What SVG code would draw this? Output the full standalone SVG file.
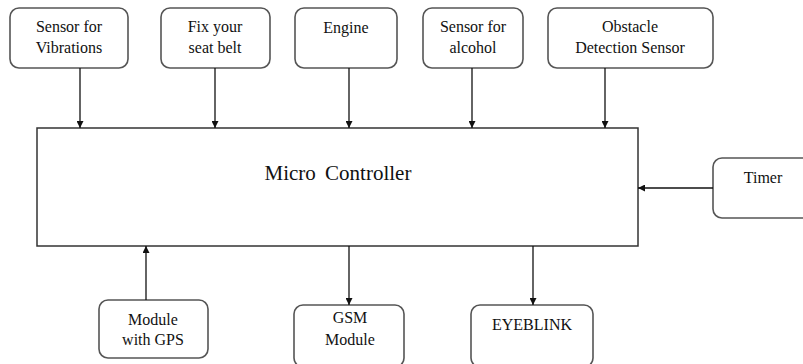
<svg xmlns="http://www.w3.org/2000/svg" width="803" height="364" viewBox="0 0 803 364">
<style>
.box{fill:#fff;stroke:#555;stroke-width:1.6}
.main{fill:#fff;stroke:#333;stroke-width:1.5}
.t{font-size:16px;fill:#111;text-anchor:middle}
.big{font-size:21px;fill:#111;text-anchor:middle;word-spacing:4px}
.c{stroke:#111;stroke-width:1.3;fill:none;marker-end:url(#ah)}
</style>
<defs>
<marker id="ah" viewBox="0 0 10 10" refX="10" refY="5" markerWidth="7" markerHeight="7" markerUnits="userSpaceOnUse" orient="auto">
<path d="M0,0 L10,5 L0,10 z" fill="#111"/>
</marker>
</defs>
<rect width="803" height="364" fill="#fff"/>
<g font-family="'Liberation Serif', 'DejaVu Serif', serif">
<g id="micro-controller">
<rect class="main" x="37" y="128" width="601" height="118"/>
<text class="big" x="338" y="180">Micro Controller</text>
</g>
<g id="sensor-vibrations">
<rect class="box" x="10" y="8" width="118" height="60" rx="9"/>
<text class="t" x="69" y="32">Sensor for</text>
<text class="t" x="69" y="53">Vibrations</text>
</g>
<g id="seat-belt">
<rect class="box" x="161" y="8" width="109" height="60" rx="9"/>
<text class="t" x="215" y="32">Fix your</text>
<text class="t" x="215" y="53">seat belt</text>
</g>
<g id="engine">
<rect class="box" x="295" y="8" width="102" height="60" rx="9"/>
<text class="t" x="346" y="33">Engine</text>
</g>
<g id="sensor-alcohol">
<rect class="box" x="423" y="8" width="100" height="60" rx="9"/>
<text class="t" x="473" y="32">Sensor for</text>
<text class="t" x="473" y="53">alcohol</text>
</g>
<g id="obstacle-sensor">
<rect class="box" x="548" y="8" width="165" height="60" rx="9"/>
<text class="t" x="630" y="32">Obstacle</text>
<text class="t" x="630" y="53">Detection Sensor</text>
</g>
<g id="timer">
<rect class="box" x="713" y="158" width="100" height="60" rx="9"/>
<text class="t" x="763" y="183">Timer</text>
</g>
<g id="gps-module">
<rect class="box" x="99" y="300" width="109" height="58" rx="9"/>
<text class="t" x="153" y="325">Module</text>
<text class="t" x="153" y="345">with GPS</text>
</g>
<g id="gsm-module">
<rect class="box" x="294" y="305" width="110" height="62" rx="9"/>
<text class="t" x="350" y="323">GSM</text>
<text class="t" x="350" y="345">Module</text>
</g>
<g id="eyeblink">
<rect class="box" x="471" y="305" width="122" height="62" rx="9"/>
<text class="t" x="532" y="330">EYEBLINK</text>
</g>
</g>
<g id="connectors">
<line class="c" x1="80" y1="68" x2="80" y2="128"/>
<line class="c" x1="215" y1="68" x2="215" y2="128"/>
<line class="c" x1="349" y1="68" x2="349" y2="128"/>
<line class="c" x1="472" y1="68" x2="472" y2="128"/>
<line class="c" x1="605" y1="68" x2="605" y2="128"/>
<line class="c" x1="713" y1="188" x2="638" y2="188"/>
<line class="c" x1="146" y1="300" x2="146" y2="246"/>
<line class="c" x1="349" y1="246" x2="349" y2="305"/>
<line class="c" x1="533" y1="246" x2="533" y2="305"/>
</g>
</svg>
